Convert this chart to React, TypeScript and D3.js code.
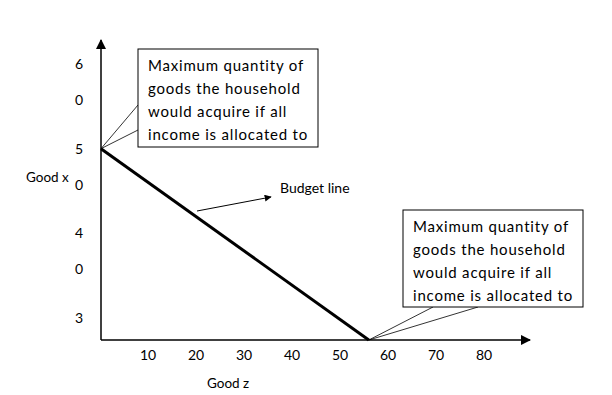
import * as d3 from "d3";

// tick values
const zTicks = [10, 20, 30, 40, 50, 60, 70, 80];
const xTicks = [60, 50, 40, 30];

// budget line: intercepts on each axis
const maxGoodX = 50;
const maxGoodZ = 56;

const calloutLines = [
  "Maximum quantity of",
  "goods the household",
  "would acquire if all",
  "income is allocated to",
];

const W = 612;
const H = 395;
const originX = 101;
const axisY = 340;
const font = "Lato, 'Open Sans', sans-serif";

const App = () => {
  const x = d3.scaleLinear().domain([0, 80]).range([100, 484]);
  const y = d3.scaleLinear().domain([30, 60]).range([318, 64]);
  const floor = y.invert(axisY);

  const budget = [
    { z: 0, v: maxGoodX },
    { z: maxGoodZ, v: floor },
  ];
  const line = d3
    .line<{ z: number; v: number }>()
    .x((d) => (d.z === 0 ? originX : x(d.z)))
    .y((d) => y(d.v));

  const p1 = { x: originX, y: y(maxGoodX) };
  const p2 = { x: x(maxGoodZ), y: axisY };

  const box1 = { x: 138, y: 49, w: 180, h: 98 };
  const box2 = { x: 403, y: 210, w: 180, h: 97 };

  const callout = (b: typeof box1, tip: { x: number; y: number }, pts: [number, number][], id: string) => (
    <g>
      <clipPath id={id}>
        <rect x={b.x} y={b.y} width={b.w} height={b.h} />
      </clipPath>
      <path
        d={`M${pts[0][0]},${pts[0][1]}L${tip.x},${tip.y}L${pts[1][0]},${pts[1][1]}`}
        fill="none"
        stroke="#000"
        strokeWidth={0.8}
      />
      <rect x={b.x} y={b.y} width={b.w} height={b.h} fill="#fff" stroke="#000" strokeWidth={1} />
      <g clipPath={`url(#${id})`}>
        {calloutLines.map((t, i) => (
          <text
            key={i}
            x={b.x + 10}
            y={b.y + 22 + i * 23}
            fontSize={15}
            letterSpacing={0.8}
            fontFamily={font}
            fill="#000"
          >
            {t}
          </text>
        ))}
      </g>
    </g>
  );

  return (
    <svg width={W} height={H} style={{ position: "absolute", left: 0, top: 0, background: "#fff" }}>
      <defs>
        <marker id="ah" viewBox="0 0 10 10" refX="9" refY="5" markerWidth="7" markerHeight="7" orient="auto">
          <path d="M0,0L10,5L0,10z" fill="#000" />
        </marker>
      </defs>
      {/* axes */}
      <line x1={originX} y1={axisY} x2={originX} y2={40} stroke="#000" strokeWidth={1.5} markerEnd="url(#ah)" />
      <line x1={originX} y1={axisY} x2={530} y2={axisY} stroke="#000" strokeWidth={1.5} markerEnd="url(#ah)" />

      {zTicks.map((t) => (
        <text key={t} x={x(t)} y={axisY + 20} textAnchor="middle" fontSize={14} fontFamily={font}>
          {t}
        </text>
      ))}
      {xTicks.map((t) => {
        const s = String(t);
        return (
          <g key={t}>
            <text x={79} y={y(t) + 5} textAnchor="middle" fontSize={14} fontFamily={font}>
              {s[0]}
            </text>
            {y(t) + 36 < axisY - 10 && (
              <text x={79} y={y(t) + 41} textAnchor="middle" fontSize={14} fontFamily={font}>
                {s.slice(1)}
              </text>
            )}
          </g>
        );
      })}
      <text x={26} y={182} fontSize={13.5} fontFamily={font}>Good x</text>
      <text x={207} y={388} fontSize={13.5} fontFamily={font}>Good z</text>

      <path d={line(budget) ?? ""} fill="none" stroke="#000" strokeWidth={3} />

      {/* budget line label */}
      <line x1={197} y1={211} x2={271} y2={197} stroke="#000" strokeWidth={1} markerEnd="url(#ah)" />
      <text x={280} y={193} fontSize={14} fontFamily={font}>Budget line</text>

      {callout(box1, p1, [[138, 105], [138, 130]], "c1")}
      {callout(box2, p2, [[433, 307], [478, 307]], "c2")}
    </svg>
  );
};

export default App;
